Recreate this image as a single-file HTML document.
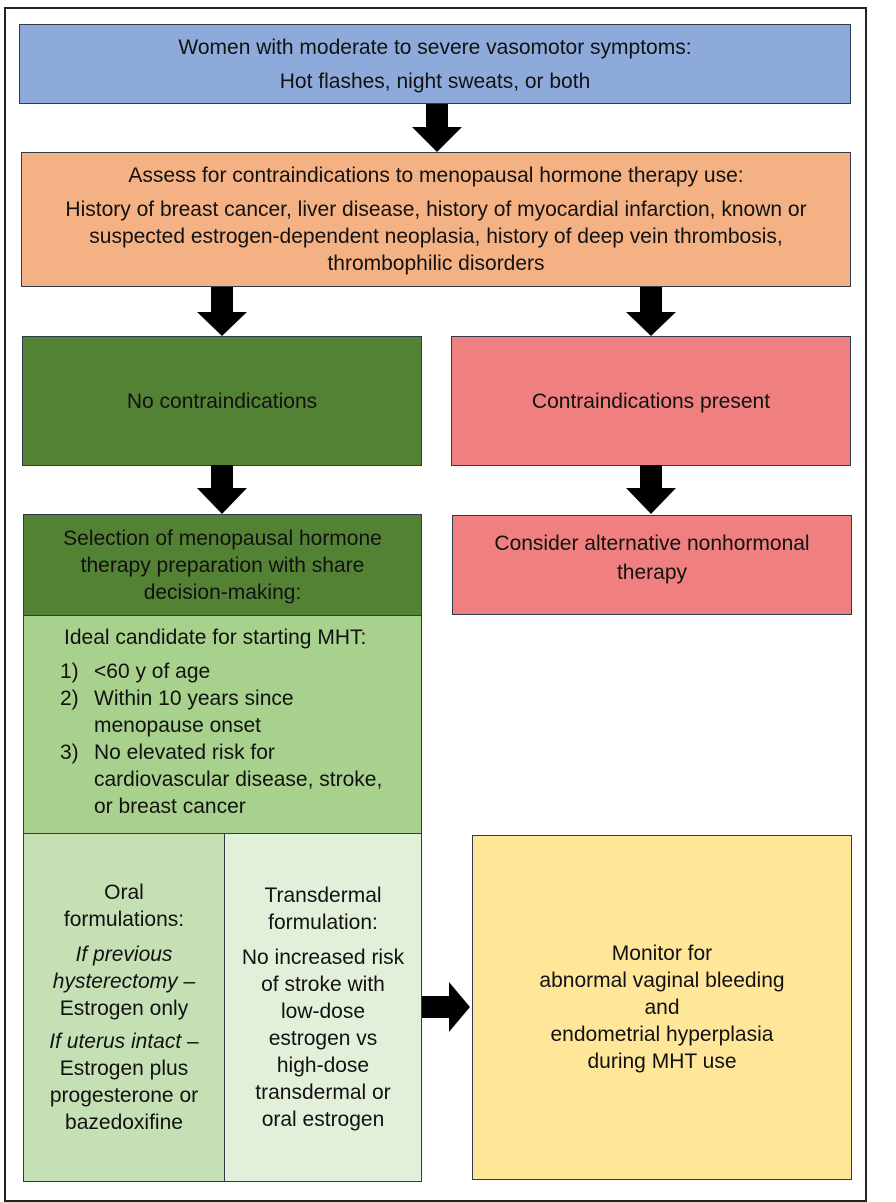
<!DOCTYPE html>
<html><head><style>
body{margin:0;width:896px;height:1190px;background:#fff;font-family:"Liberation Sans",sans-serif;color:#111;position:relative;overflow:hidden}
.b{position:absolute;box-sizing:border-box;border:1.5px solid #2f3b4c;text-align:center;font-size:21px;line-height:27px;white-space:nowrap}
.frame{position:absolute;left:4px;top:7px;width:863px;height:1195px;border:2px solid #222;box-sizing:border-box}
.c{display:flex;flex-direction:column;justify-content:center;align-items:center}
p{margin:0}
svg{position:absolute}
</style></head><body>
<div class="frame"></div>
<div class="b c" style="left:19px;top:24px;width:832px;height:80px;background:#8eaadb">
<p>Women with moderate to severe vasomotor symptoms:</p><p style="margin-top:7px">Hot flashes, night sweats, or both</p></div>
<svg style="left:411px;top:104px" width="52" height="49"><polygon points="15,0 37,0 37,23 51,23 26,48 1,23 15,23" fill="#000"/></svg>
<div class="b c" style="left:21px;top:152px;width:830px;height:135px;background:#f4b183">
<p>Assess for contraindications to menopausal hormone therapy use:</p>
<p style="margin-top:7px">History of breast cancer, liver disease, history of myocardial infarction, known or<br>suspected estrogen-dependent neoplasia, history of deep vein thrombosis,<br>thrombophilic disorders</p></div>
<svg style="left:196px;top:287px" width="52" height="50"><polygon points="15,0 37,0 37,25 51,25 26,49 1,25 15,25" fill="#000"/></svg>
<svg style="left:625px;top:287px" width="52" height="50"><polygon points="15,0 37,0 37,25 51,25 26,49 1,25 15,25" fill="#000"/></svg>
<div class="b c" style="left:22px;top:336px;width:400px;height:130px;background:#548235">No contraindications</div>
<div class="b c" style="left:451px;top:336px;width:400px;height:130px;background:#f08080">Contraindications present</div>
<svg style="left:196px;top:465px" width="52" height="50"><polygon points="15,0 37,0 37,23 51,23 26,49 1,23 15,23" fill="#000"/></svg>
<svg style="left:625px;top:465px" width="52" height="50"><polygon points="15,0 37,0 37,23 51,23 26,49 1,23 15,23" fill="#000"/></svg>
<div class="b c" style="left:23px;top:514px;width:399px;height:102px;background:#548235">Selection of menopausal hormone<br>therapy preparation with share<br>decision-making:</div>
<div class="b c" style="left:452px;top:515px;width:400px;height:100px;background:#f08080;line-height:29px;padding-bottom:14px">Consider alternative nonhormonal<br>therapy</div>
<div class="b" style="left:23px;top:615px;width:399px;height:219px;background:#a9d18e;text-align:left;padding:8px 0 0 40px">
<p>Ideal candidate for starting MHT:</p>
<div style="display:grid;grid-template-columns:34px 1fr;margin-top:7px;margin-left:-4px">
<span>1)</span><span>&lt;60 y of age</span>
<span>2)</span><span>Within 10 years since<br>menopause onset</span>
<span>3)</span><span>No elevated risk for<br>cardiovascular disease, stroke,<br>or breast cancer</span></div></div>
<div class="b c" style="left:23px;top:833px;width:202px;height:349px;background:#c5e0b4">
<p>Oral<br>formulations:</p><p style="margin-top:8px"><i>If previous<br>hysterectomy</i> –<br>Estrogen only</p><p style="margin-top:6px"><i>If uterus intact</i> –<br>Estrogen plus<br>progesterone or<br>bazedoxifine</p></div>
<div class="b c" style="left:224px;top:833px;width:198px;height:349px;background:#e2f0d9">
<p>Transdermal<br>formulation:</p><p style="margin-top:8px">No increased risk<br>of stroke with<br>low-dose<br>estrogen vs<br>high-dose<br>transdermal or<br>oral estrogen</p></div>
<svg style="left:422px;top:981px" width="50" height="52"><polygon points="0,15 27,15 27,1 48,26 27,51 27,37 0,37" fill="#000"/></svg>
<div class="b c" style="left:472px;top:835px;width:380px;height:345px;background:#ffe699">Monitor for<br>abnormal vaginal bleeding<br>and<br>endometrial hyperplasia<br>during MHT use</div>
</body></html>
